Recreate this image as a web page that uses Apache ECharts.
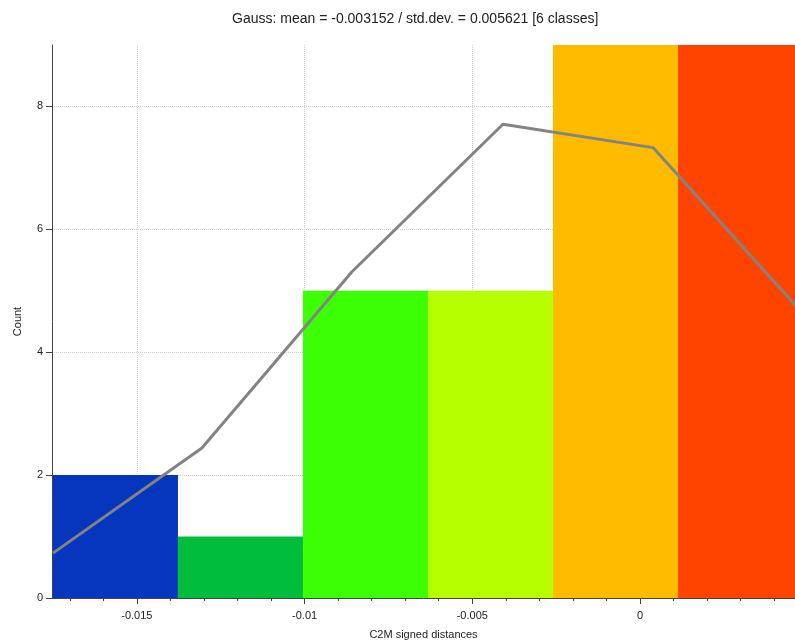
<!DOCTYPE html>
<html>
<head>
<meta charset="utf-8">
<script src="https://cdn.jsdelivr.net/npm/echarts@6/dist/echarts.min.js"></script>
<style>html,body{margin:0;padding:0;background:#fff}#c{width:795px;height:641px}</style>
</head>
<body>
<div id="c"></div>
<script>
// Histogram classes (bin edges) and counts
var binEdges = [-0.017502, -0.013775, -0.010048, -0.006321, -0.002594, 0.001133, 0.004860];
var binCounts = [2, 1, 5, 5, 10, 10];
var binColors = ['#0636BE', '#00BE3C', '#3CFF06', '#B6FF00', '#FFBB00', '#FF4400'];
// Gauss curve vertices
var gaussX = [-0.01750, -0.01306, -0.008587, -0.004085, 0.000388, 0.00486];
var gaussY = [0.73, 2.44, 5.31, 7.71, 7.33, 4.63];
// Tick labels
var xTickLabels = [-0.015, -0.01, -0.005, 0];
var yTickLabels = [0, 2, 4, 6, 8];
var xMinorTicks = [-0.017, -0.016, -0.015, -0.014, -0.013, -0.012, -0.011, -0.010, -0.009, -0.008, -0.007, -0.006, -0.005, -0.004, -0.003, -0.002, -0.001, 0, 0.001, 0.002, 0.003, 0.004];
var yMinorTicks = [0, 0.5, 1, 1.5, 2, 2.5, 3, 3.5, 4, 4.5, 5, 5.5, 6, 6.5, 7, 7.5, 8, 8.5, 9];
var xMin = -0.01753, xMax = 0.004621;
var yMin = 0, yMax = 9;

var histData = binCounts.map(function (c, i) { return [binEdges[i], binEdges[i + 1], c]; });
var lineData = gaussX.map(function (x, i) { return [x, gaussY[i]]; });

var font = 'Liberation Sans, Arial, sans-serif';
var chart = echarts.init(document.getElementById('c'), null, {renderer: 'canvas'});
chart.setOption({
  animation: false,
  title: {
    text: 'Gauss: mean = -0.003152 / std.dev. = 0.005621 [6 classes]',
    left: 227, top: 7,
    textStyle: {fontSize: 14, fontWeight: 'normal', color: '#222', fontFamily: font}
  },
  grid: {left: 52, right: 0, top: 45, bottom: 43, containLabel: false, outerBoundsMode: 'none'},
  xAxis: [{
    type: 'value', min: xMin, max: xMax,
    name: 'C2M signed distances', nameLocation: 'middle', nameGap: 31,
    nameTextStyle: {fontSize: 11, color: '#222', fontFamily: font},
    axisLine: {show: true, onZero: false, lineStyle: {color: '#444', width: 1}},
    axisTick: {show: true, customValues: xTickLabels, length: 6, lineStyle: {color: '#444'}},
    axisLabel: {customValues: xTickLabels, fontSize: 11, color: '#222', fontFamily: font, margin: 12},
    splitLine: {show: true, lineStyle: {color: '#cfcfcf', type: 'dotted', width: 1}}
  }, {
    type: 'value', min: xMin, max: xMax, position: 'bottom',
    axisLine: {show: false},
    axisTick: {show: true, customValues: xMinorTicks, length: 3, lineStyle: {color: '#444'}},
    axisLabel: {show: false},
    splitLine: {show: false}
  }],
  yAxis: [{
    type: 'value', min: yMin, max: yMax,
    name: 'Count', nameLocation: 'middle', nameGap: 29, nameRotate: 90,
    nameTextStyle: {fontSize: 11, color: '#222', fontFamily: font},
    axisLine: {show: true, onZero: false, lineStyle: {color: '#444', width: 1}},
    axisTick: {show: true, customValues: yTickLabels, length: 6, lineStyle: {color: '#444'}},
    axisLabel: {customValues: yTickLabels, fontSize: 11, color: '#222', fontFamily: font, margin: 9},
    splitLine: {show: true, lineStyle: {color: '#cfcfcf', type: 'dotted', width: 1}}
  }, {
    type: 'value', min: yMin, max: yMax, position: 'left',
    axisLine: {show: false},
    axisTick: {show: true, customValues: yMinorTicks, length: 3, lineStyle: {color: '#444'}},
    axisLabel: {show: false},
    splitLine: {show: false}
  }],
  series: [{
    type: 'custom',
    xAxisIndex: 0, yAxisIndex: 0,
    clip: true,
    data: histData,
    renderItem: function (params, api) {
      var x0 = api.value(0), x1 = api.value(1), c = Math.min(api.value(2), yMax);
      var p0 = api.coord([x0, c]);
      var p1 = api.coord([x1, 0]);
      return {
        type: 'rect',
        shape: {x: p0[0], y: p0[1], width: p1[0] - p0[0], height: p1[1] - p0[1]},
        style: {fill: binColors[params.dataIndex]}
      };
    },
    z: 2
  }, {
    type: 'line',
    xAxisIndex: 0, yAxisIndex: 0,
    data: lineData,
    clip: true,
    showSymbol: false, symbol: 'none',
    lineStyle: {color: '#838383', width: 3},
    z: 3
  }]
});
</script>
</body>
</html>
